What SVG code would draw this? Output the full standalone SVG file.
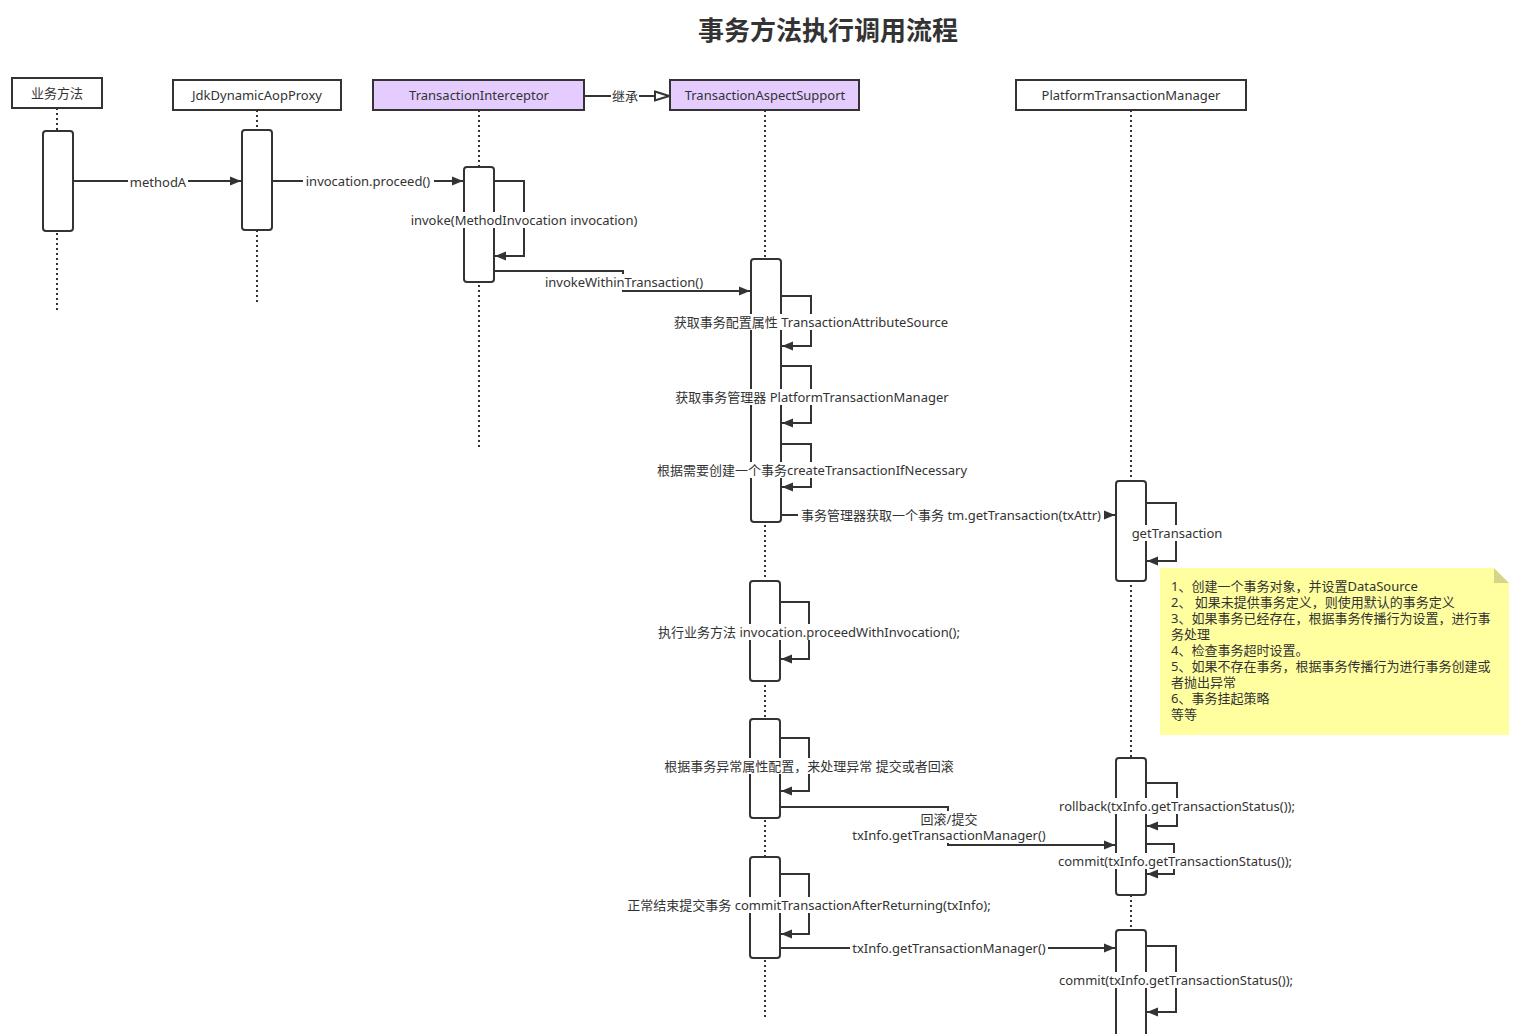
<svg xmlns="http://www.w3.org/2000/svg" width="1517" height="1034" viewBox="0 0 1517 1034">
<defs>
<style>
.box{fill:#fff;stroke:#333;stroke-width:2}
.pbox{fill:#E5CCFF;stroke:#333;stroke-width:2}
.act{fill:#fff;stroke:#333;stroke-width:2}
.life{stroke:#333;stroke-width:2;stroke-dasharray:2 3;fill:none}
.ln{stroke:#333;stroke-width:2;fill:none}
.arr{stroke:#333;stroke-width:2;fill:none;marker-end:url(#a)}
.t{font-family:"Noto Sans","Noto Sans CJK SC",sans-serif;font-size:13px;fill:#333;text-anchor:middle;dominant-baseline:central}
.n{font-family:"Noto Sans","Noto Sans CJK SC",sans-serif;font-size:13px;fill:#333}
.bg{fill:#fff}
</style>
<marker id="a" markerWidth="12" markerHeight="10" refX="11" refY="5" orient="auto" markerUnits="userSpaceOnUse"><path d="M0,0.5 L11,5 L0,9.5 Z" fill="#333"/></marker>
<marker id="inh" markerWidth="17" markerHeight="12" refX="15" refY="6" orient="auto" markerUnits="userSpaceOnUse"><path d="M1,1.5 L15,6 L1,10.5 Z" fill="#fff" stroke="#333" stroke-width="2"/></marker>
</defs>
<rect width="1517" height="1034" fill="#fff"/>
<text x="828" y="28" style="font-family:'Noto Sans CJK SC',sans-serif;font-size:26px;font-weight:bold;fill:#333;text-anchor:middle;dominant-baseline:central">事务方法执行调用流程</text>

<g id="lifelines">
<line class="life" x1="57" y1="108" x2="57" y2="310"/>
<line class="life" x1="257" y1="110" x2="257" y2="302"/>
<line class="life" x1="479" y1="110" x2="479" y2="447"/>
<line class="life" x1="765" y1="110" x2="765" y2="1017"/>
<line class="life" x1="1131" y1="110" x2="1131" y2="1034"/>
</g>

<g id="node-yewu">
<rect class="box" x="12" y="78" width="90" height="30"/>
<text class="t" x="57" y="93">业务方法</text>
<rect class="act" x="43" y="131" width="30" height="100" rx="3"/>
</g>
<g id="node-jdk">
<rect class="box" x="173" y="80" width="168" height="30"/>
<text class="t" x="257" y="95">JdkDynamicAopProxy</text>
<rect class="act" x="242" y="130" width="30" height="100" rx="3"/>
</g>
<g id="node-ti">
<rect class="pbox" x="373" y="80" width="211" height="30"/>
<text class="t" x="479" y="95">TransactionInterceptor</text>
<rect class="act" x="464" y="167" width="30" height="115" rx="3"/>
</g>
<g id="node-tas">
<rect class="pbox" x="670" y="80" width="189" height="30"/>
<text class="t" x="765" y="95">TransactionAspectSupport</text>
<rect class="act" x="751" y="259" width="30" height="263" rx="3"/>
<rect class="act" x="750" y="581" width="30" height="100" rx="3"/>
<rect class="act" x="750" y="719" width="30" height="99" rx="3"/>
<rect class="act" x="750" y="857" width="30" height="101" rx="3"/>
</g>
<g id="node-ptm">
<rect class="box" x="1016" y="80" width="230" height="30"/>
<text class="t" x="1131" y="95">PlatformTransactionManager</text>
<rect class="act" x="1116" y="481" width="30" height="100" rx="3"/>
<rect class="act" x="1116" y="758" width="30" height="137" rx="3"/>
<rect class="act" x="1116" y="930" width="30" height="115" rx="3"/>
</g>

<g id="note">
<path d="M1160,568 H1494 L1509,583 V735 H1160 Z" fill="#FFFFA0"/>
<path d="M1494,568 L1509,583 H1494 Z" fill="#D6D68A"/>
<text class="n" x="1171" y="591">1、创建一个事务对象，并设置DataSource</text>
<text class="n" x="1171" y="607">2、 如果未提供事务定义，则使用默认的事务定义</text>
<text class="n" x="1171" y="623">3、如果事务已经存在，根据事务传播行为设置，进行事</text>
<text class="n" x="1171" y="639">务处理</text>
<text class="n" x="1171" y="655">4、检查事务超时设置。</text>
<text class="n" x="1171" y="671">5、如果不存在事务，根据事务传播行为进行事务创建或</text>
<text class="n" x="1171" y="687">者抛出异常</text>
<text class="n" x="1171" y="703">6、事务挂起策略</text>
<text class="n" x="1171" y="719">等等</text>
</g>

<g id="connectors">
<path style="stroke:#333;stroke-width:2;fill:none;marker-end:url(#inh)" d="M584,96 H669"/>
<rect class="bg" x="611" y="88" width="28" height="16"/>
<text class="t" x="625" y="96">继承</text>

<path class="arr" d="M73,181 H241"/>
<rect class="bg" x="128" y="174" width="60" height="15"/>
<text class="t" x="158" y="182">methodA</text>

<path class="arr" d="M272,181 H463"/>
<rect class="bg" x="303" y="174" width="131" height="15"/>
<text class="t" x="368" y="181">invocation.proceed()</text>

<path class="arr" d="M494,181 H524 V256 H495"/>
<rect class="bg" x="406" y="212" width="236" height="16"/>
<text class="t" x="524" y="220">invoke(MethodInvocation invocation)</text>

<path class="arr" d="M494,271 H623 V291 H750"/>
<rect class="bg" x="542" y="274" width="164" height="16"/>
<text class="t" x="624" y="282">invokeWithinTransaction()</text>

<path class="arr" d="M781,296 H811 V346 H782"/>
<rect class="bg" x="671" y="314" width="280" height="16"/>
<text class="t" x="811" y="322">获取事务配置属性 TransactionAttributeSource</text>

<path class="arr" d="M781,366 H811 V423 H782"/>
<rect class="bg" x="673" y="389" width="278" height="16"/>
<text class="t" x="812" y="397">获取事务管理器 PlatformTransactionManager</text>

<path class="arr" d="M781,444 H811 V487 H782"/>
<rect class="bg" x="655" y="462" width="314" height="16"/>
<text class="t" x="812" y="470">根据需要创建一个事务createTransactionIfNecessary</text>

<path class="arr" d="M781,515 H1115"/>
<rect class="bg" x="798" y="507" width="306" height="16"/>
<text class="t" x="951" y="515">事务管理器获取一个事务 tm.getTransaction(txAttr)</text>

<path class="arr" d="M1146,503 H1176 V561 H1147"/>
<rect class="bg" x="1130" y="525" width="94" height="16"/>
<text class="t" x="1177" y="533">getTransaction</text>

<path class="arr" d="M780,602 H809 V659 H781"/>
<rect class="bg" x="654" y="624" width="311" height="16"/>
<text class="t" x="809" y="632">执行业务方法 invocation.proceedWithInvocation();</text>

<path class="arr" d="M780,738 H809 V791 H781"/>
<rect class="bg" x="661" y="758" width="295" height="16"/>
<text class="t" x="809" y="766">根据事务异常属性配置，来处理异常 提交或者回滚</text>

<path class="arr" d="M780,807 H948 V845 H1115"/>
<rect class="bg" x="850" y="811" width="198" height="32"/>
<text class="t" x="949" y="819">回滚/提交</text>
<text class="t" x="949" y="835">txInfo.getTransactionManager()</text>

<path class="arr" d="M1146,783 H1177 V826 H1147"/>
<rect class="bg" x="1056" y="798" width="243" height="16"/>
<text class="t" x="1177" y="806">rollback(txInfo.getTransactionStatus());</text>

<path class="arr" d="M1146,844 H1174 V874 H1147"/>
<rect class="bg" x="1055" y="853" width="240" height="16"/>
<text class="t" x="1175" y="861">commit(txInfo.getTransactionStatus());</text>

<path class="arr" d="M780,874 H809 V934 H781"/>
<rect class="bg" x="625" y="897" width="370" height="16"/>
<text class="t" x="809" y="905">正常结束提交事务 commitTransactionAfterReturning(txInfo);</text>

<path class="arr" d="M780,948 H1115"/>
<rect class="bg" x="850" y="940" width="198" height="16"/>
<text class="t" x="949" y="948">txInfo.getTransactionManager()</text>

<path class="arr" d="M1146,946 H1176 V1012 H1147"/>
<rect class="bg" x="1056" y="972" width="240" height="16"/>
<text class="t" x="1176" y="980">commit(txInfo.getTransactionStatus());</text>
</g>
</svg>
